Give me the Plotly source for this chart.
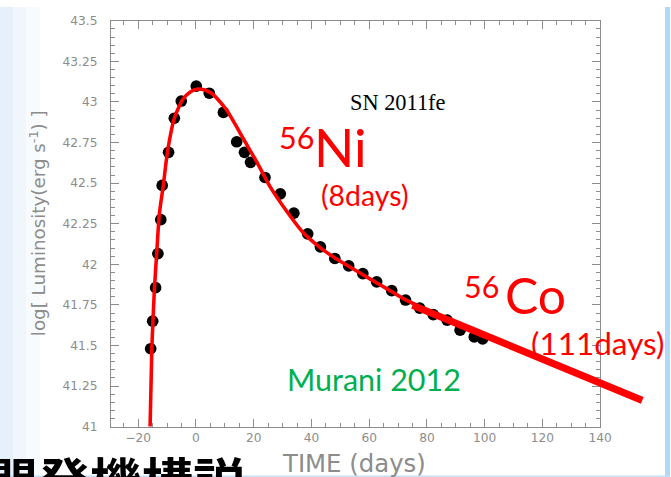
import plotly.graph_objects as go

# Bolometric light curve of SN 2011fe (days from maximum, log L in erg/s)
obs_days = [-15.7, -15.0, -14.0, -13.2, -12.2, -11.7, -9.5, -7.5, -5.1, 0.1,
            4.6, 9.5, 14.1, 16.8, 18.9, 23.9, 29.2, 33.9, 38.7, 43.1,
            48.1, 52.9, 57.8, 62.6, 67.8, 72.6, 77.5, 82.2, 87.0, 91.5,
            96.4, 99.3]
obs_logL = [41.48, 41.65, 41.856, 42.066, 42.275, 42.486, 42.69, 42.90, 43.006, 43.098,
            43.054, 42.936, 42.755, 42.69, 42.628, 42.535, 42.434, 42.315, 42.188, 42.108,
            42.036, 41.99, 41.943, 41.892, 41.838, 41.78, 41.73, 41.69, 41.656, 41.594,
            41.553, 41.54]

# Radioactive-decay model curve (56Ni -> 56Co powered)
model_days = [-15.9, -15.3, -14.4, -13.6, -12.7, -11.3, -9.9, -7.5, -4.6, -2.0,
              0.6, 3.0, 5.5, 8.0, 10.6, 13.5, 16.4, 21.0, 25.6, 31.3,
              37.1, 42.9, 48.6, 54.4, 60.1, 65.9, 71.7, 77.4]
model_logL = [41.0, 41.48, 41.85, 42.07, 42.31, 42.49, 42.69, 42.90, 43.015, 43.062,
              43.08, 43.074, 43.052, 43.008, 42.95, 42.865, 42.774, 42.632, 42.48, 42.33,
              42.196, 42.105, 42.034, 41.973, 41.912, 41.852, 41.79, 41.74]

# 56Co tail (straight line in log L)
tail_days = [75.0, 154.6]
tail_logL = [41.748, 41.162]

x_ticks = [-20, 0, 20, 40, 60, 80, 100, 120, 140]
y_ticks = [41, 41.25, 41.5, 41.75, 42, 42.25, 42.5, 42.75, 43, 43.25, 43.5]
y_ticktext = ["41", "41.25", "41.5", "41.75", "42", "42.25", "42.5", "42.75", "43", "43.25", "43.5"]

caption = "開発機構説"

# layout is designed on a 671 x 477 grid; the figure is drawn at a slightly larger
# pixel size with every length scaled by S
W, H = 671, 477
S = 682 / 671
FIG_W, FIG_H = 682, 485
FRAME_L, FRAME_R, FRAME_T, FRAME_B = 111, 601, 14, 425
TAIL_R = 660
X0, X1 = -29.5, 140.0
Y0, Y1 = 41.0, 43.5


def px(x):
    return x / W


def py(y):
    return 1 - y / H


def sz(v):
    return v * S


days_per_px = (X1 - X0) / (FRAME_R - FRAME_L)
x2_end = X0 + (TAIL_R - FRAME_L) * days_per_px

GRAY = "#8c8c8c"
RED = "#ff0000"

fig = go.Figure()

fig.add_trace(go.Scatter(
    x=obs_days, y=obs_logL, mode="markers",
    marker=dict(color="black", size=sz(11.5), line=dict(width=0)),
    xaxis="x", yaxis="y", showlegend=False, hoverinfo="skip",
))
fig.add_trace(go.Scatter(
    x=model_days, y=model_logL, mode="lines",
    line=dict(color=RED, width=sz(3.5), shape="spline", smoothing=0.6),
    xaxis="x", yaxis="y", showlegend=False, hoverinfo="skip",
))
fig.add_trace(go.Scatter(
    x=tail_days, y=tail_logL, mode="lines", line=dict(color=RED, width=sz(7)),
    xaxis="x2", yaxis="y2", showlegend=False, hoverinfo="skip",
))
# slide caption running off the bottom edge, clipped by its own strip
fig.add_trace(go.Scatter(
    x=[-14], y=[-11.5], mode="text", text=["<b>" + caption + "</b>"],
    textposition="middle right", cliponaxis=True,
    textfont=dict(family="Noto Sans CJK JP", size=sz(51), color="black"),
    xaxis="x3", yaxis="y3", showlegend=False, hoverinfo="skip",
))

axis_common = dict(
    showline=True, linecolor=GRAY, linewidth=1, mirror="allticks",
    ticks="inside", ticklen=sz(8), tickcolor=GRAY, tickwidth=1,
    showgrid=False, zeroline=False,
    tickfont=dict(family="DejaVu Sans", size=sz(12), color=GRAY),
)

fig.update_layout(
    width=FIG_W, height=FIG_H,
    margin=dict(l=0, r=0, t=0, b=0),
    paper_bgcolor="white", plot_bgcolor="rgba(0,0,0,0)",
    xaxis=dict(domain=[px(FRAME_L), px(FRAME_R)], range=[X0, X1], tickvals=x_ticks,
               minor=dict(ticks="inside", ticklen=sz(4), dtick=5, tickcolor=GRAY),
               anchor="y", **axis_common),
    yaxis=dict(domain=[py(FRAME_B), py(FRAME_T)], range=[Y0, Y1], tickvals=y_ticks,
               ticktext=y_ticktext,
               minor=dict(ticks="inside", ticklen=sz(4), dtick=0.05, tickcolor=GRAY),
               ticklabelstandoff=round(sz(10)), anchor="x", **axis_common),
    xaxis2=dict(domain=[px(FRAME_L), px(TAIL_R)], range=[X0, x2_end], visible=False, anchor="y2"),
    yaxis2=dict(domain=[py(FRAME_B), py(FRAME_T)], range=[Y0, Y1], visible=False, anchor="x2"),
    xaxis3=dict(domain=[0, 1], range=[0, W], visible=False, anchor="y3"),
    yaxis3=dict(domain=[0, py(440)], range=[0, H - 440], visible=False, anchor="x3"),
)

full_h = [py(H), py(0)]
shapes = [
    dict(type="rect", xref="paper", yref="paper", x0=px(0), x1=px(13), y0=full_h[0], y1=full_h[1],
         fillcolor="#e6f0fa", line=dict(width=0), layer="below"),
    dict(type="rect", xref="paper", yref="paper", x0=px(13), x1=px(26), y0=full_h[0], y1=full_h[1],
         fillcolor="#f1f6fc", line=dict(width=0), layer="below"),
    dict(type="rect", xref="paper", yref="paper", x0=px(26), x1=px(40), y0=full_h[0], y1=full_h[1],
         fillcolor="#f8fbfe", line=dict(width=0), layer="below"),
    dict(type="rect", xref="paper", yref="paper", x0=px(666), x1=px(671), y0=full_h[0], y1=full_h[1],
         fillcolor="#b0d8f7", line=dict(width=0), layer="below"),
    dict(type="line", xref="paper", yref="paper", x0=px(0), x1=px(671), y0=py(475.5), y1=py(475.5),
         line=dict(color="#c4e1f8", width=sz(2)), layer="below"),
]
fig.update_layout(shapes=shapes)

ann = []


def label(text, x, y, size, color, family="Lato", **kw):
    ann.append(dict(text=text, x=px(x), y=py(y), xref="paper", yref="paper",
                    showarrow=False, xanchor="center", yanchor="middle",
                    font=dict(family=family, size=sz(size), color=color), **kw))


label("SN 2011fe", 399, 97, 22, "black", family="Liberation Serif")
label("56", 297, 132, 30, RED)
label("Ni", 341, 141, 52, RED)
label("(8days)", 366, 190, 28, RED)
label("56", 482, 283, 30, RED)
label("Co", 536, 292, 49, RED)
label("(111days)", 598, 340, 31, RED)
label("Murani 2012", 375, 377, 30, "#00b050")
label("TIME (days)", 355, 462.5, 24, GRAY, family="DejaVu Sans")
label("log[ Luminosity(erg s<sup>-1</sup>) ]", 38, 219, 18, GRAY, family="DejaVu Sans", textangle=-90)

fig.update_layout(annotations=ann)

# keep the page itself free of margins and scroll area
page_fix = (
    "var st=document.createElement('style');"
    "st.textContent='html,body{margin:0!important;padding:0!important;overflow:hidden!important;}';"
    "document.head.appendChild(st);"
    "var d=document.getElementById('{plot_id}');"
    "d.style.overflow='hidden';"
)

fig.write_html("out.html", post_script=page_fix)
